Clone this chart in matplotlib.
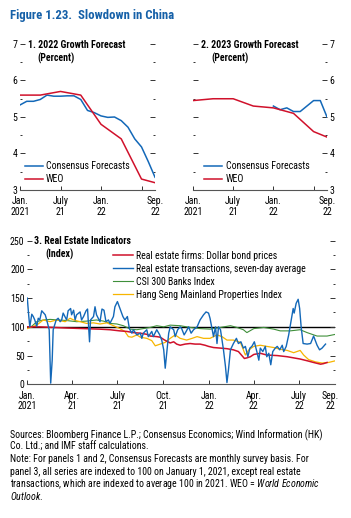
import re
import numpy as np
import pandas as pd
import matplotlib
matplotlib.use("Agg")
import matplotlib.pyplot as plt
from matplotlib import font_manager

# pick a narrow sans family if one is installed
names = {f.name for f in font_manager.fontManager.ttflist}
prefer = ["Liberation Sans Narrow", "Arial Narrow", "Roboto Condensed", "Archivo Narrow",
          "PT Sans Narrow", "Open Sans Condensed", "Fira Sans Condensed",
          "IBM Plex Sans Condensed", "Barlow Semi Condensed", "Encode Sans Condensed",
          "Asap Condensed", "Noto Sans Condensed", "DejaVu Sans Condensed"]
FONT = next((n for n in prefer if n in names), None)
if FONT is None:
    pat = re.compile(r"(Narrow|Condensed)")
    bad = re.compile(r"(Serif|Mono|Slab|Code|Display|Black|Light|Thin|Extra|Ultra)")
    cands = sorted(n for n in names if pat.search(n) and not bad.search(n))
    FONT = cands[0] if cands else "Liberation Sans"
plt.rcParams["font.family"] = [FONT, "DejaVu Sans"]
plt.rcParams["mathtext.fontset"] = "custom"
plt.rcParams["mathtext.rm"] = FONT
plt.rcParams["mathtext.it"] = FONT + ":italic"

BLUE = "#1368b8"
RED = "#d0112b"
GREEN = "#3f8f3a"
YELLOW = "#f7b500"
TITLE_BLUE = "#1560a8"

# ---- panels 1 and 2: monthly, Jan 2021 .. Sep 2022
months = pd.date_range("2021-01-01", "2022-09-01", freq="MS")
weo_dates = ["2021-01", "2021-04", "2021-07", "2021-10", "2022-01", "2022-04", "2022-07", "2022-09"]

cons_2022 = [5.33, 5.43, 5.43, 5.48, 5.60, 5.57, 5.57, 5.58, 5.58, 5.48, 5.18,
             5.12, 5.03, 4.99, 5.00, 4.90, 4.72, 4.40, 4.18, 3.78, 3.35]
weo_2022 = [5.6, 5.6, 5.7, 5.6, 4.8, 4.4, 3.3, 3.2]

cons_2023_start = "2022-01"
cons_2023 = [5.3, 5.2, 5.25, 5.15, 5.15, 5.3, 5.45, 5.45, 5.0]
weo_2023 = [5.45, 5.5, 5.5, 5.3, 5.25, 5.1, 4.6, 4.45]

month_labels = ["Jan.\n2021", "July\n21", "Jan.\n22", "Sep.\n22"]
month_label_dates = ["2021-01", "2021-07", "2022-01", "2022-09"]
month_tick_dates = ["2021-01", "2021-07", "2022-01", "2022-07"]

# ---- panel 3: daily indices (days since 1 Jan 2021)
bond_days = [0, 25, 52, 79, 113, 146, 166, 186, 200, 213, 227, 240, 247, 260, 267, 274, 280, 287,
             294, 300, 307, 317, 327, 337, 347, 357, 364, 374, 388, 401, 414, 424, 431, 436, 441,
             448, 455, 468, 481, 502, 522, 535, 548, 562, 575, 589, 595, 602]
bond_vals = [100, 100, 99, 98, 97, 96, 95, 93, 92, 90, 89, 87, 84, 83, 82, 78, 75, 72,
             74, 70, 68, 70, 71, 70, 70, 68, 66, 64, 63, 62, 60, 57, 50, 45, 46,
             48, 52, 54, 51, 50, 48, 46, 44, 41, 38, 35, 36, 38]

trans_days = [0, 3, 5, 9, 12, 15, 19, 22, 25, 29, 36, 39, 44, 47, 50, 52, 58, 62, 66, 69, 72, 79,
              82, 87, 89, 93, 96, 99, 106, 109, 113, 118, 121, 125, 127, 133, 136, 139, 146, 150,
              154, 158, 163, 166, 173, 176, 181, 186, 192, 196, 201, 205, 210, 213, 220, 227, 230,
              233, 240, 243, 250, 253, 260, 266, 270, 274, 277, 280, 284, 287, 294, 297, 302, 307,
              310, 315, 319, 324, 329, 334, 341, 347, 354, 359, 364, 367, 374, 378, 381, 384, 388,
              391, 394, 398, 401, 404, 408, 414, 420, 424, 429, 434, 438, 443, 447, 451, 456, 461,
              465, 468, 473, 478, 481, 485, 489, 493, 498, 502, 507, 512, 515, 520, 525, 530, 534,
              536, 540, 544, 547, 550, 554, 562, 569, 575, 582, 587, 592, 599]
trans_vals = [150, 118, 100, 122, 118, 112, 101, 115, 112, 128, 121, 112, 95, 2, 42, 95, 112, 115,
              109, 112, 124, 112, 128, 132, 121, 129, 112, 121, 126, 112, 118, 128, 131, 74, 112,
              118, 135, 121, 109, 131, 129, 109, 112, 106, 118, 135, 144, 132, 118, 112, 118, 97,
              89, 95, 86, 89, 80, 89, 95, 83, 92, 83, 95, 86, 77, 60, 28, 54, 89, 100, 95, 83, 95,
              100, 97, 86, 92, 100, 89, 95, 100, 112, 121, 126, 124, 115, 83, 100, 71, 100, 95, 77,
              60, 31, 3, 25, 60, 71, 80, 71, 74, 63, 66, 48, 63, 66, 74, 57, 42, 63, 57, 66, 48,
              54, 34, 57, 63, 66, 60, 68, 57, 66, 86, 112, 132, 124, 141, 148, 132, 100, 71, 70,
              71, 84, 68, 60, 63, 70]

banks_days = [0, 9, 19, 32, 46, 62, 79, 99, 119, 139, 153, 166, 180, 193, 207, 220, 233, 247, 260,
              274, 287, 307, 327, 347, 367, 388, 408, 421, 434, 441, 455, 475, 495, 508, 528, 548,
              562, 582, 602, 619]
banks_vals = [100, 101, 109, 112, 113, 112, 111, 109, 110, 112, 110, 106, 105, 102, 96, 95, 97, 99,
              102, 100, 103, 102, 99, 97, 96, 99, 102, 99, 95, 90, 97, 99, 96, 93, 93, 95, 90, 84,
              84, 87]

hs_days = [0, 9, 19, 32, 46, 59, 76, 86, 93, 106, 119, 133, 146, 160, 173, 186, 196, 203, 210, 220,
           227, 240, 250, 257, 267, 277, 287, 297, 307, 320, 331, 341, 354, 367, 381, 391, 401, 414,
           428, 438, 445, 455, 468, 481, 495, 508, 522, 535, 548, 555, 565, 579, 592, 605, 619]
hs_vals = [97, 100, 103, 112, 109, 112, 109, 115, 112, 109, 106, 107, 105, 107, 102, 97, 92, 83, 82,
           86, 82, 80, 76, 67, 70, 73, 80, 86, 80, 77, 80, 83, 80, 80, 86, 83, 77, 77, 73, 51, 60,
           66, 68, 66, 64, 61, 59, 55, 59, 51, 43, 39, 37, 38, 41]

p3_label_dates = ["2021-01-01", "2021-04-01", "2021-07-01", "2021-10-01", "2022-01-01",
                  "2022-04-01", "2022-07-01", "2022-09-01"]
p3_labels = ["Jan.\n2021", "Apr.\n21", "July\n21", "Oct.\n21", "Jan.\n22", "Apr.\n22",
             "July\n22", "Sep.\n22"]
p3_tick_dates = p3_label_dates[:-1]

notes = [
    "Sources: Bloomberg Finance L.P.; Consensus Economics; Wind Information (HK)",
    "Co. Ltd.; and IMF staff calculations.",
    "Note: For panels 1 and 2, Consensus Forecasts are monthly survey basis. For",
    "panel 3, all series are indexed to 100 on January 1, 2021, except real estate",
    r"transactions, which are indexed to average 100 in 2021. WEO = $\it{World\ Economic}$",
    r"$\it{Outlook}$.",
]

W, H = 351, 518
fig = plt.figure(figsize=(W / 100, H / 100), dpi=100)

# size the text so the first note line is as wide as in the reference (~317 px)
probe = fig.text(0, 0, notes[0], fontsize=7)
fig.canvas.draw()
k = min(1.15, 317 / probe.get_window_extent().width)
probe.remove()
FS = 7 * k


def box(x0, y0, x1, y1):
    return [x0 / W, 1 - y1 / H, (x1 - x0) / W, (y1 - y0) / H]


def ftext(x, y, s, **kw):
    fig.text(x / W, 1 - y / H, s, **kw)


def style(ax, side):
    for s in ["top", "left", "right"]:
        ax.spines[s].set_visible(False)
    ax.spines["bottom"].set_color("#555555")
    ax.spines["bottom"].set_linewidth(0.8)
    ax.tick_params(axis="y", which="both", direction="in", left=True, right=True,
                   labelleft=(side == "left"), labelright=(side == "right"),
                   colors="#333333", labelcolor="black", labelsize=FS, pad=2)
    ax.tick_params(axis="y", which="major", length=3.5, width=0.7)
    ax.tick_params(axis="y", which="minor", length=1.2, width=0.7)
    ax.tick_params(axis="x", which="major", length=0, labelsize=FS, pad=4.5)
    ax.tick_params(axis="x", which="minor", direction="in", length=3, width=0.7, colors="#333333")
    ax.xaxis.remove_overlapping_locs = False


x_months = np.arange(len(months))
m_index = {d.strftime("%Y-%m"): i for i, d in enumerate(months)}
weo_x = [m_index[d] for d in weo_dates]
c23_x = np.arange(len(cons_2023)) + m_index[cons_2023_start]

panels = [
    (box(20, 44, 155, 190), cons_2022, x_months, weo_2022, "left",
     "1. 2022 Growth Forecast", 28, 40, 37, 53),
    (box(193, 44, 327, 190), cons_2023, c23_x, weo_2023, "right",
     "2. 2023 Growth Forecast", 201, 40, 211, 53),
]
for rect, cons, cx, weo, side, title, tx, ty, px, py in panels:
    ax = fig.add_axes(rect)
    ax.plot(cx, cons, color=BLUE, lw=1.1, label="Consensus Forecasts")
    ax.plot(weo_x, weo, color=RED, lw=1.1, label="WEO")
    ax.set_xlim(0, len(months) - 1)
    ax.set_ylim(3, 7)
    ax.set_yticks([3, 4, 5, 6, 7])
    ax.set_yticks(np.arange(3.5, 7, 1.0), minor=True)
    ax.set_xticks([m_index[d] for d in month_label_dates])
    ax.set_xticklabels(month_labels, linespacing=1.05)
    ax.set_xticks([m_index[d] for d in month_tick_dates], minor=True)
    style(ax, side)
    leg_x = 0.035 if side == "left" else 0.085
    ax.legend(loc="lower left", bbox_to_anchor=(leg_x, 0.04), frameon=False,
              fontsize=FS, handlelength=1.8, handletextpad=0.35, labelspacing=0.3,
              borderpad=0, borderaxespad=0)
    ftext(tx, ty, title, fontsize=FS, fontweight="bold", va="top")
    ftext(px, py, "(Percent)", fontsize=FS, fontweight="bold", va="top")

# ---- panel 3
start = pd.Timestamp("2021-01-01")
ax3 = fig.add_axes(box(27.3, 240.7, 335, 384.3))
ax3.axhline(100, color="black", lw=1.0, zorder=1)
series = [
    (bond_days, bond_vals, RED, "Real estate firms: Dollar bond prices", 1.1, 4),
    (trans_days, trans_vals, BLUE, "Real estate transactions, seven-day average", 1.0, 5),
    (banks_days, banks_vals, GREEN, "CSI 300 Banks Index", 0.8, 2),
    (hs_days, hs_vals, YELLOW, "Hang Seng Mainland Properties Index", 0.9, 3),
]
for days, vals, col, lab, lw, z in series:
    dates = start + pd.to_timedelta(days, unit="D")
    ax3.plot(dates, vals, color=col, lw=lw, label=lab, zorder=z)
ax3.set_xlim(start, pd.Timestamp("2022-09-11"))
ax3.set_ylim(0, 250)
ax3.set_yticks(np.arange(0, 251, 50))
ax3.set_yticks(np.arange(25, 250, 50), minor=True)
ax3.set_xticks(pd.to_datetime(p3_label_dates))
ax3.set_xticklabels(p3_labels, linespacing=1.05)
ax3.set_xticks(pd.to_datetime(p3_tick_dates), minor=True)
style(ax3, "left")
ax3.legend(loc="upper left", bbox_to_anchor=(0.278, 0.935), frameon=False, fontsize=FS,
           handlelength=2.0, handletextpad=0.35, labelspacing=0.3, borderpad=0,
           borderaxespad=0)
ftext(34, 236, "3. Real Estate Indicators", fontsize=FS, fontweight="bold", va="top")
ftext(45, 249, "(Index)", fontsize=FS, fontweight="bold", va="top")

# ---- title and notes
ftext(10, 16, "Figure 1.23.  Slowdown in China", fontsize=9 * k, fontweight="bold",
      color=TITLE_BLUE, va="center")

for i, line in enumerate(notes):
    ftext(10, 435 + i * 12.2, line, fontsize=FS, va="center")

fig.savefig("out.png", dpi=100)
